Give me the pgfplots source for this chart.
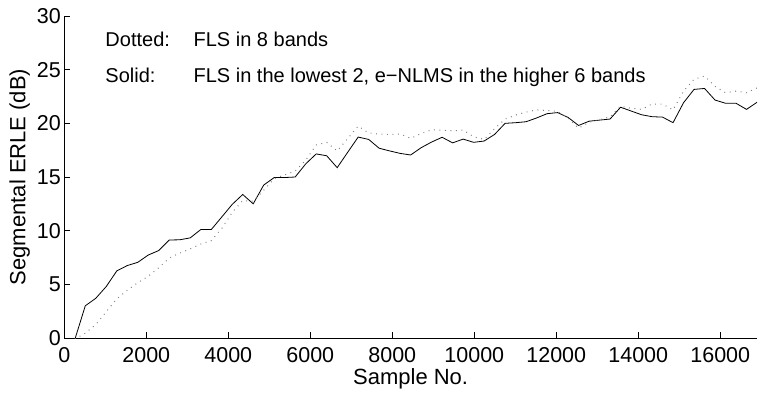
\documentclass[border=0pt]{standalone}
\usepackage{fontspec}
\setmainfont{Liberation Sans}
\usepackage{pgfplots}
\usepackage{pgfplotstable}
\pgfplotsset{compat=1.18}

% Segmental ERLE, one value every 256 samples
\pgfplotstableread{
x      solid   dotted
256    -0.15   -0.10
512    3.00    0.45
768    3.70    1.25
1024   4.80    2.45
1280   6.25    3.65
1536   6.75    4.45
1792   7.05    5.15
2048   7.73    5.75
2304   8.15    6.55
2560   9.13    7.45
2816   9.15    7.90
3072   9.33    8.30
3328   10.10   8.75
3584   10.10   9.07
3840   11.27   10.20
4096   12.45   11.70
4352   13.37   12.80
4608   12.50   12.75
4864   14.25   13.77
5120   14.95   14.85
5376   14.95   15.20
5632   15.00   15.55
5888   16.22   16.57
6144   17.15   17.98
6400   16.98   18.23
6656   15.87   17.43
6912   17.30   18.58
7168   18.72   19.74
7424   18.50   19.10
7680   17.68   19.00
7936   17.43   18.95
8192   17.20   19.00
8448   17.05   18.60
8704   17.73   19.05
8960   18.26   19.40
9216   18.70   19.37
9472   18.18   19.30
9728   18.53   19.38
9984   18.23   18.75
10240  18.35   18.50
10496  18.97   19.50
10752  20.00   20.40
11008  20.06   20.77
11264  20.15   21.05
11520  20.50   21.25
11776  20.90   21.20
12032  21.00   21.10
12288  20.55   20.50
12544  19.80   19.55
12800  20.20   20.10
13056  20.30   20.35
13312  20.40   20.60
13568  21.50   21.60
13824  21.15   21.40
14080  20.80   21.30
14336  20.62   21.80
14592  20.58   21.80
14848  20.06   21.25
15104  21.92   23.00
15360  23.16   24.10
15616  23.25   24.40
15872  22.17   23.45
16128  21.87   22.85
16384  21.87   23.00
16640  21.30   22.85
16896  21.96   23.30
}\erle

\begin{document}
\begin{tikzpicture}
\begin{axis}[
  scale only axis,
  width=692.7bp, height=322bp,
  xmin=0, xmax=16896, ymin=0, ymax=30,
  axis lines=left,
  axis line style={-, line width=0.6bp},
  tick align=inside,
  major tick length=6bp,
  tick style={line width=0.6bp, black},
  xtick={0,2000,...,16000},
  ytick={0,5,...,30},
  scaled x ticks=false,
  /pgf/number format/1000 sep={},
  /pgf/number format/assume math mode=true,
  ticklabel style={font=\fontsize{21.5bp}{24bp}\selectfont},
  x tick label style={yshift=-6bp},
  label style={font=\fontsize{22bp}{26bp}\selectfont},
  xlabel={Sample No.},
  xlabel style={at={(axis description cs:0.5,0)}, anchor=base, yshift=-46bp},
  ylabel={Segmental ERLE (dB)},
  clip=true,
]
\coordinate (sw) at (rel axis cs:0,0);
\addplot[black, line width=0.8bp] table[x=x, y=solid] {\erle};
\addplot[gray, line width=1bp, dash pattern=on 0.9bp off 4.6bp] table[x=x, y=dotted] {\erle};
\node[anchor=base west, inner sep=0pt, font=\fontsize{20bp}{23bp}\selectfont] at (axis cs:1000,27.2) {Dotted:};
\node[anchor=base west, inner sep=0pt, font=\fontsize{20bp}{23bp}\selectfont] at (axis cs:3150,27.2) {FLS in 8 bands};
\node[anchor=base west, inner sep=0pt, font=\fontsize{20bp}{23bp}\selectfont] at (axis cs:1000,23.85) {Solid:};
\node[anchor=base west, inner sep=0pt, font=\fontsize{20bp}{23bp}\selectfont] at (axis cs:3150,23.85) {FLS in the lowest 2, e−NLMS in the higher 6 bands};
\end{axis}
\pgfresetboundingbox
\path ([shift={(-64.3bp,-63bp)}]sw) rectangle ([shift={(693.7bp,338bp)}]sw);
\end{tikzpicture}
\end{document}
